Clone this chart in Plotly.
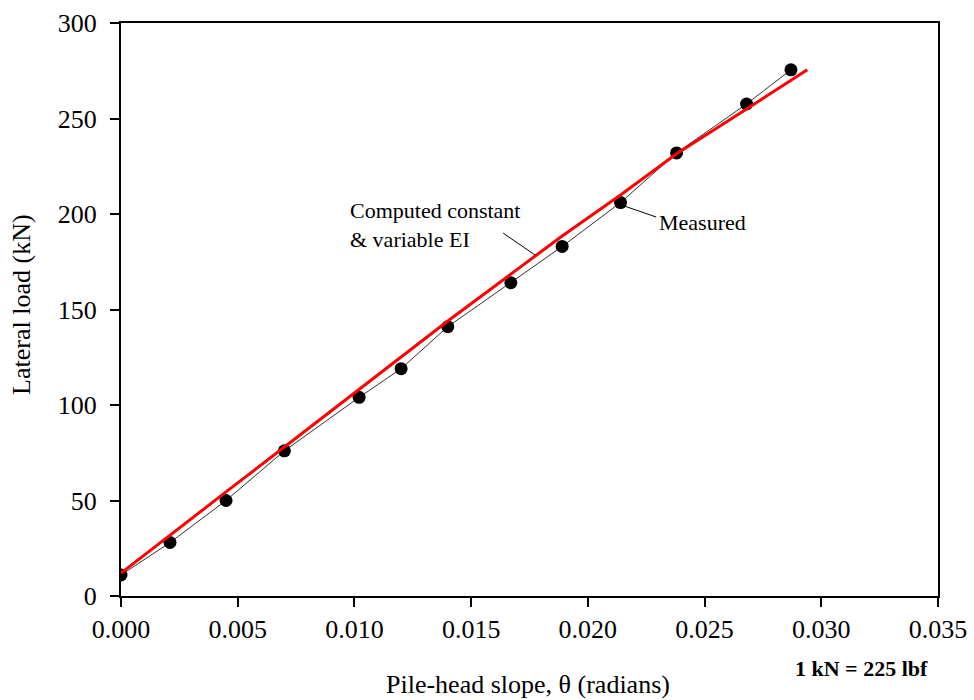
import plotly.graph_objects as go

# Measured data
measured_x = [0.0000, 0.0021, 0.0045, 0.0070, 0.0102, 0.0120, 0.0140, 0.0167, 0.0189, 0.0214, 0.0238, 0.0268, 0.0287]
measured_y = [11, 28, 50, 76, 104, 119, 141, 164, 183, 206, 232, 257.6, 275.5]

# Computed constant & variable EI
computed_x = [0.0000, 0.0021, 0.0045, 0.0070, 0.0102, 0.0120, 0.0140, 0.0167, 0.0189, 0.0214, 0.0238, 0.0268, 0.0294]
computed_y = [12, 32, 54.5, 78, 108, 125, 144, 168.5, 188.5, 210, 231.5, 255, 275.5]

x_ticks = [0.000, 0.005, 0.010, 0.015, 0.020, 0.025, 0.030, 0.035]
y_ticks = [0, 50, 100, 150, 200, 250, 300]

FONT = "Liberation Serif, Times New Roman, serif"

fig = go.Figure()
fig.add_trace(go.Scatter(
    x=measured_x, y=measured_y, mode="lines+markers",
    line=dict(color="#333333", width=1),
    marker=dict(color="black", size=13, symbol="circle"),
    name="Measured", showlegend=False,
))
fig.add_trace(go.Scatter(
    x=computed_x, y=computed_y, mode="lines",
    line=dict(color="#ff0000", width=3),
    name="Computed", showlegend=False,
))

# leader lines
fig.add_shape(type="line", x0=0.01637, y0=190, x1=0.01774, y1=178.5,
              line=dict(color="black", width=1))
fig.add_shape(type="line", x0=0.02156, y0=204.2, x1=0.02293, y1=198.4,
              line=dict(color="black", width=1))

fig.add_annotation(x=0.00973, y=194.5, xref="x", yref="y", xanchor="left", yanchor="middle",
                   text="Computed constant<br>& variable EI", showarrow=False, align="left",
                   font=dict(family=FONT, size=22, color="black"))
fig.add_annotation(x=0.02297, y=195.3, xref="x", yref="y", xanchor="left", yanchor="middle",
                   text="Measured", showarrow=False,
                   font=dict(family=FONT, size=22, color="black"))
fig.add_annotation(x=0.906, y=-0.1257, xref="paper", yref="paper", xanchor="center", yanchor="middle",
                   text="<b>1 kN = 225 lbf</b>", showarrow=False,
                   font=dict(family=FONT, size=22, color="black"))
fig.add_annotation(x=0.498, y=-0.155, xref="paper", yref="paper", xanchor="center", yanchor="middle",
                   text="Pile-head slope, θ (radians)", showarrow=False,
                   font=dict(family=FONT, size=26, color="black"))
fig.add_annotation(x=-0.1212, y=0.508, xref="paper", yref="paper", xanchor="center", yanchor="middle",
                   text="Lateral load (kN)", showarrow=False, textangle=-90,
                   font=dict(family=FONT, size=26, color="black"))

fig.update_xaxes(range=[0, 0.035], tickvals=x_ticks, ticktext=[f"{v:.3f}" for v in x_ticks],
                 showline=True, linecolor="black", linewidth=2, mirror=True,
                 ticks="outside", ticklen=9, tickwidth=2, tickcolor="black",
                 showgrid=False, zeroline=False, automargin=False,
                 tickfont=dict(family=FONT, size=26, color="black"))
fig.update_yaxes(range=[0, 300], tickvals=y_ticks, ticktext=[str(v) for v in y_ticks],
                 showline=True, linecolor="black", linewidth=2, mirror=True,
                 ticks="outside", ticklen=9, tickwidth=2, tickcolor="black",
                 showgrid=False, zeroline=False, ticklabelstandoff=8, automargin=False,
                 tickfont=dict(family=FONT, size=26, color="black"))

fig.update_layout(
    width=974, height=700,
    margin=dict(l=121, r=36, t=23, b=104),
    plot_bgcolor="white", paper_bgcolor="white",
    showlegend=False,
)

fig.write_html("out.html", config={"displayModeBar": False},
               post_script="document.body.style.margin='0';document.body.style.overflow='hidden';")
